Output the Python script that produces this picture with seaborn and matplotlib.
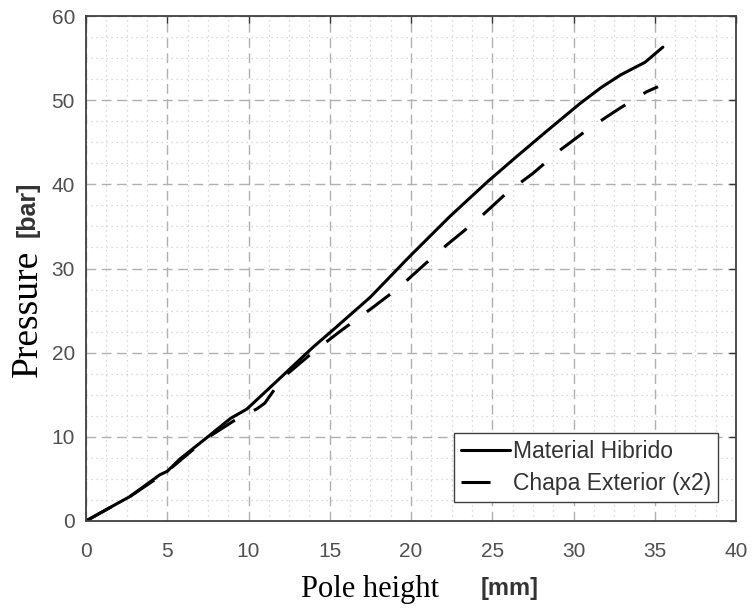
import matplotlib
matplotlib.use("Agg")
import matplotlib.pyplot as plt
import seaborn as sns
import pandas as pd
from matplotlib.ticker import MultipleLocator

# Data
hibrido_x = [0, 1.0, 2.7, 4.55, 5.0, 5.8, 7.4, 8.9, 9.9, 11.9, 14.0, 15.2, 17.5,
             19.9, 22.4, 24.7, 26.5, 28.4, 30.4, 31.7, 32.9, 33.6, 34.4, 35.5]
hibrido_y = [0, 1.1, 2.9, 5.5, 5.9, 7.4, 9.85, 12.2, 13.3, 16.9, 20.7, 22.7, 26.6,
             31.4, 36.2, 40.3, 43.3, 46.4, 49.6, 51.5, 53.0, 53.7, 54.5, 56.3]
chapa_x = [0, 2.7, 5.0, 7.4, 9.5, 10.5, 11.0, 12.1, 14.0, 15.75, 17.6, 19.3, 20.9,
           22.2, 24.1, 25.9, 27.5, 29.2, 31.0, 32.9, 34.5, 35.2]
chapa_y = [0, 2.9, 5.9, 9.8, 12.4, 13.3, 14.0, 17.0, 20.1, 22.7, 25.3, 27.8, 30.6,
           32.8, 35.8, 39.0, 41.3, 44.1, 46.7, 49.1, 51.0, 51.6]
series_labels = ["Material Hibrido", "Chapa Exterior (x2)"]
x_ticks = [0, 5, 10, 15, 20, 25, 30, 35, 40]
y_ticks = [0, 10, 20, 30, 40, 50, 60]

df = pd.concat([
    pd.DataFrame({"x": hibrido_x, "y": hibrido_y, "serie": series_labels[0]}),
    pd.DataFrame({"x": chapa_x, "y": chapa_y, "serie": series_labels[1]}),
])

sns.set_style("white")
fig = plt.figure(figsize=(7.53, 6.10), dpi=100)
ax = fig.add_axes([86/753, 1-521/610, 650/753, 505/610])

sns.lineplot(data=df, x="x", y="y", hue="serie", style="serie",
             palette=["black", "black"], dashes=[(None, None), (9.5, 7)],
             sort=False, estimator=None, linewidth=2.2, ax=ax, legend=True)
for ln in ax.get_lines():
    ln.set_solid_joinstyle("round")
    ln.set_dash_joinstyle("round")

ax.set_xlim(0, 40)
ax.set_ylim(0, 60)
ax.set_xticks(x_ticks)
ax.set_yticks(y_ticks)
ax.xaxis.set_minor_locator(MultipleLocator(1.25))
ax.yaxis.set_minor_locator(MultipleLocator(2.5))
ax.grid(which="major", color="#b0b0b0", linestyle=(0, (7, 4)), linewidth=1.0)
ax.grid(which="minor", color="#cfcfcf", linestyle=(0, (1, 3)), linewidth=0.9)
ax.set_axisbelow(True)
ax.tick_params(which="major", direction="in", length=5, width=1, color="#333333",
               top=True, right=True, labelsize=15, labelcolor="#505050")
ax.tick_params(axis="x", which="major", pad=15)
ax.tick_params(axis="y", which="major", pad=8)
ax.tick_params(which="minor", length=0)
for lab in ax.get_xticklabels() + ax.get_yticklabels():
    lab.set_family("Liberation Sans")
for s in ax.spines.values():
    s.set_color("#404040")
    s.set_linewidth(1.3)
    s.set_visible(True)

ax.set_xlabel("")
ax.set_ylabel("")

leg = ax.legend(loc="lower right", bbox_to_anchor=(0.972, 0.038), borderaxespad=0,
                prop={"family": "Liberation Sans", "size": 16.5}, frameon=True,
                fancybox=False, edgecolor="#404040", framealpha=1,
                handlelength=2.15, handletextpad=0.12, labelspacing=0.4,
                borderpad=0.3)
leg.get_frame().set_linewidth(1.0)
for t in leg.get_texts():
    t.set_color("#333333")

fig.text(370/753, 1-590/610, "Pole height", family="Liberation Serif",
         fontsize=22, ha="center", va="center", color="black")
fig.text(510/753, 1-588/610, "[mm]", family="Liberation Sans", fontweight="bold",
         fontsize=17, ha="center", va="center", color="#333333")
fig.text(28/753, 1-313/610, "Pressure", family="Liberation Serif", rotation=90,
         fontsize=27, ha="center", va="center", color="black")
fig.text(28/753, 1-209/610, "[bar]", family="Liberation Sans", fontweight="bold",
         rotation=90, fontsize=18, ha="center", va="center", color="#333333")

fig.savefig("out.png", dpi=100)
